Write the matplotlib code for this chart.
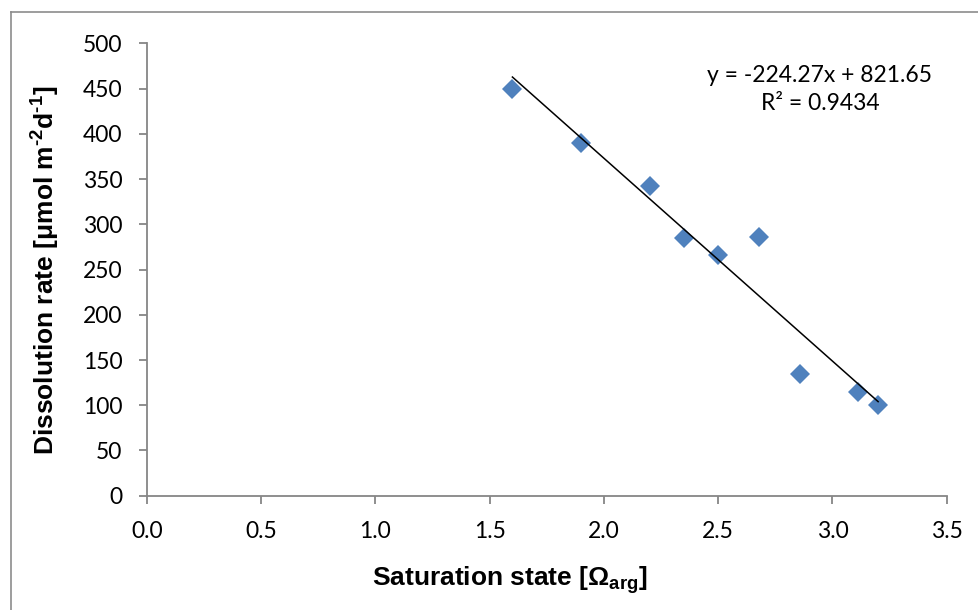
import numpy as np
import matplotlib
matplotlib.use("Agg")
import matplotlib.pyplot as plt
from matplotlib.lines import Line2D

# saturation state vs dissolution rate, one point per incubation
omega_arg = [1.60, 1.90, 2.20, 2.35, 2.50, 2.68, 2.86, 3.11, 3.20]
dissolution = [450, 390, 342, 285, 266, 286, 135, 115, 100]

# linear fit as reported on the chart
slope = -224.27
intercept = 821.65
r_squared = 0.9434

x_ticks = np.arange(0, 3.51, 0.5)
y_ticks = np.arange(0, 501, 50)

plt.rcParams["font.family"] = ["Lato", "DejaVu Sans"]
plt.rcParams["mathtext.default"] = "regular"
# \text{} in the axis titles uses this, keeps the hyphen in the exponents
plt.rcParams["mathtext.fontset"] = "custom"
plt.rcParams["mathtext.rm"] = "Liberation Sans:bold"

W, H = 979, 610
fig = plt.figure(figsize=(W / 100, H / 100), dpi=100)
ax = fig.add_axes([146.7 / W, 114.3 / H, (946.7 - 146.7) / W, (495.7 - 43.4) / H])

ax.plot(omega_arg, dissolution, "D", color="#4F81BD", markersize=10.5,
        markeredgewidth=0, zorder=3)

x_fit = np.array([min(omega_arg), max(omega_arg)])
ax.plot(x_fit, slope * x_fit + intercept, color="black", linewidth=1.1, zorder=4)

ax.set_xlim(0, 3.5)
ax.set_ylim(0, 500)
ax.set_xticks(x_ticks)
ax.set_xticklabels([f"{t:.1f}" for t in x_ticks])
ax.set_yticks(y_ticks)
ax.set_yticklabels([f"{t:.0f}" for t in y_ticks])

gray = "#868686"
for side in ("top", "right"):
    ax.spines[side].set_visible(False)
for side in ("left", "bottom"):
    ax.spines[side].set_color(gray)
    ax.spines[side].set_linewidth(1.3)
ax.tick_params(colors=gray, labelcolor="black", labelsize=16.5, length=5.5,
               width=1.3, direction="out")
ax.tick_params(axis="x", pad=13)
ax.tick_params(axis="y", pad=12)

# axis titles placed by baseline
label_font = dict(family="Liberation Sans", weight="bold", size=19)
fig.text(510 / W, 1 - 586 / H, r"Saturation state [Ω$_{\text{arg}}$]",
         ha="center", va="baseline", **label_font)
fig.text(55 / W, 1 - 270 / H,
         r"Dissolution rate [μmol m$^{\text{-2}}$d$^{\text{-1}}$]",
         rotation=90, rotation_mode="anchor", ha="center", va="baseline",
         **label_font)

fig.text(820 / W, 1 - 82 / H, f"y = {slope:.2f}x + {intercept:.2f}",
         ha="center", va="baseline", fontsize=16.5)
fig.text(820 / W, 1 - 110 / H, f"R² = {r_squared:.4f}",
         ha="center", va="baseline", fontsize=16.5)

# chart area border running off the right and bottom edges
fig.add_artist(Line2D([10.5 / W, 10.5 / W], [0, 1 - 12 / H], transform=fig.transFigure,
                      color="#8c8c8c", linewidth=1.2))
fig.add_artist(Line2D([10.5 / W, 1], [1 - 12 / H, 1 - 12 / H], transform=fig.transFigure,
                      color="#8c8c8c", linewidth=1.2))

fig.savefig("out.png", dpi=100)
